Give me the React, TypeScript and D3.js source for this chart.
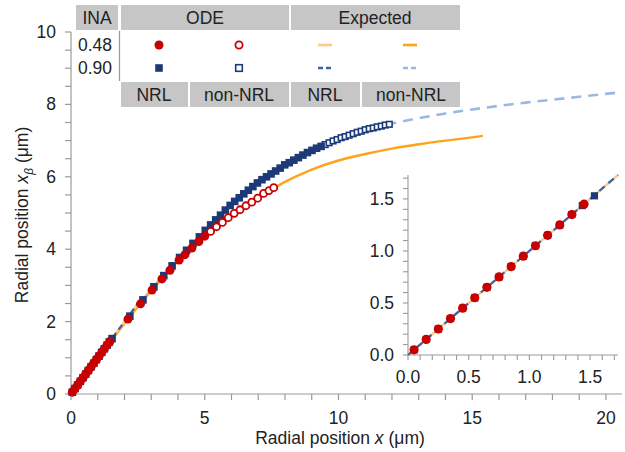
import React from "react";
import * as d3 from "d3";

// ---------- data ----------
const inaLabels = ["0.48", "0.90"];
const groupLabels = ["ODE", "Expected"];
const subLabels = ["NRL", "non-NRL", "NRL", "non-NRL"];

const mainXTicks = [0, 5, 10, 15, 20];
const mainYTicks = [0, 2, 4, 6, 8, 10];
const insetTicks = [0, 0.5, 1.0, 1.5];

// ODE, INA 0.48, NRL (filled red circles)
const odeNrl048X = [0.05, 0.15, 0.25, 0.35, 0.45, 0.55, 0.65, 0.75, 0.85, 0.95, 1.05, 1.15, 1.25, 1.35, 1.45, 2.13, 2.6, 3.03, 3.4, 3.7, 4.04, 4.26, 4.52, 4.78, 5.0];
const odeNrl048Y = [0.05, 0.15, 0.25, 0.35, 0.45, 0.55, 0.65, 0.75, 0.85, 0.95, 1.05, 1.15, 1.25, 1.35, 1.45, 2.07, 2.49, 2.87, 3.18, 3.42, 3.70, 3.85, 4.03, 4.21, 4.36];
// ODE, INA 0.48, non-NRL (open red circles)
const odeNon048X = [5.22, 5.44, 5.66, 5.88, 6.1, 6.32, 6.54, 6.76, 6.98, 7.2, 7.4, 7.58];
const odeNon048Y = [4.49, 4.62, 4.74, 4.87, 4.99, 5.09, 5.20, 5.30, 5.41, 5.54, 5.62, 5.70];
// ODE, INA 0.90, NRL (filled navy squares)
const odeNrl090X = [0.05, 0.15, 0.25, 0.35, 0.45, 0.55, 0.65, 0.75, 0.85, 0.95, 1.05, 1.15, 1.25, 1.35, 1.436, 1.536, 2.2, 2.69, 3.1, 3.47, 3.78, 4.06, 4.32, 4.56, 4.8, 5.02, 5.22, 5.41, 5.59, 5.77, 5.95, 6.12, 6.29, 6.46, 6.63, 6.8, 6.97, 7.14, 7.31, 7.48, 7.65, 7.82, 7.99, 8.16, 8.33, 8.5, 8.67, 8.84, 9.01, 9.18, 9.35];
const odeNrl090Y = [0.05, 0.15, 0.25, 0.35, 0.45, 0.55, 0.65, 0.75, 0.85, 0.95, 1.05, 1.15, 1.25, 1.35, 1.436, 1.53, 2.15, 2.6, 2.96, 3.27, 3.54, 3.77, 3.97, 4.16, 4.34, 4.52, 4.67, 4.81, 4.94, 5.08, 5.21, 5.32, 5.42, 5.53, 5.63, 5.73, 5.83, 5.92, 6.0, 6.08, 6.16, 6.24, 6.33, 6.39, 6.46, 6.53, 6.6, 6.67, 6.73, 6.79, 6.84];
// ODE, INA 0.90, non-NRL (open navy squares)
const odeNon090X = [9.5, 9.65, 9.8, 9.95, 10.1, 10.25, 10.4, 10.55, 10.7, 10.85, 11.0, 11.15, 11.3, 11.45, 11.6, 11.75, 11.9];
const odeNon090Y = [6.89, 6.94, 6.99, 7.03, 7.08, 7.11, 7.15, 7.19, 7.23, 7.26, 7.3, 7.33, 7.35, 7.38, 7.4, 7.43, 7.45];

// Expected, NRL (straight line)
const expNrlX = [0, 2.6];
const expNrlY = [0, 2.6];
// Expected, non-NRL, INA 0.48
const expNon048X = [0, 1, 2, 3, 4, 5, 6, 7, 8, 9, 10, 11, 12, 13, 14, 15, 15.4];
const expNon048Y = [0, 0.99, 1.95, 2.85, 3.67, 4.36, 4.94, 5.42, 5.86, 6.2, 6.45, 6.63, 6.78, 6.9, 7.0, 7.09, 7.13];
// Expected, non-NRL, INA 0.90
const expNon090X = [0, 1, 2, 3, 4, 5, 6, 7, 8, 9, 10, 11, 12, 13, 14, 15, 16, 17, 18, 19, 20, 20.6];
const expNon090Y = [0, 0.995, 1.97, 2.88, 3.72, 4.5, 5.25, 5.85, 6.33, 6.73, 7.05, 7.3, 7.47, 7.62, 7.75, 7.86, 7.96, 8.05, 8.13, 8.21, 8.29, 8.34];

// ---------- styles ----------
const RED = "#c80000";
const NAVY = "#1c3a78";
const ORANGE = "#ffa31a";
const LORANGE = "#ffca88";
const DBLUE = "#3a64a8";
const LBLUE = "#9ab9e2";
const AXIS = "#9a9a9a";
const CELL = "#c6c6c6";
const FONT = "'Liberation Sans', Arial, sans-serif";

const zip = (xs: number[], ys: number[]) => xs.map((x, i) => [x, ys[i]] as [number, number]);

function Markers({ pts, sx, sy, kind, r }: any) {
  return (
    <g>
      {pts.map(([x, y]: [number, number], i: number) => {
        const cx = sx(x), cy = sy(y);
        if (kind === "fc") return <circle key={i} cx={cx} cy={cy} r={r} fill={RED} />;
        if (kind === "oc") return <circle key={i} cx={cx} cy={cy} r={r - 0.9} fill="#fff" stroke={RED} strokeWidth={1.8} />;
        if (kind === "fs") return <rect key={i} x={cx - r} y={cy - r} width={2 * r} height={2 * r} fill={NAVY} />;
        return <rect key={i} x={cx - r + 0.8} y={cy - r + 0.8} width={2 * r - 1.6} height={2 * r - 1.6} fill="#fff" stroke={NAVY} strokeWidth={1.6} />;
      })}
    </g>
  );
}

export default function App() {
  const W = 625, H = 452;
  const x = d3.scaleLinear().domain([0, 20.6]).range([71, 622]);
  const y = d3.scaleLinear().domain([0, 10]).range([394, 32]);
  const ix = d3.scaleLinear().domain([0, 1.73]).range([408, 618]);
  const iy = d3.scaleLinear().domain([0, 1.73]).range([355, 175]);

  const lineMain = d3.line<[number, number]>().x((d) => x(d[0])).y((d) => y(d[1])).curve(d3.curveMonotoneX);
  const lineIn = d3.line<[number, number]>().x((d) => ix(d[0])).y((d) => iy(d[1]));

  const inDom = (p: [number, number]) => p[0] <= 1.73 && p[1] <= 1.73;

  const nrl048 = zip(odeNrl048X, odeNrl048Y);
  const non048 = zip(odeNon048X, odeNon048Y);
  const nrl090 = zip(odeNrl090X, odeNrl090Y);
  const non090 = zip(odeNon090X, odeNon090Y);
  const eNrl = zip(expNrlX, expNrlY);
  const e048 = zip(expNon048X, expNon048Y);
  const e090 = zip(expNon090X, expNon090Y);

  const xMinor = d3.range(0, 21, 1);
  const yMinor = d3.range(0, 10.01, 0.5);
  const iMinor = d3.range(0, 1.71, 0.1);

  const fs = 17.5;

  // legend geometry
  const colC = [159, 239, 325, 410];
  const rowY = [45, 68];

  return (
    <svg width={W} height={H} style={{ position: "absolute", left: 0, top: 0, background: "#fff" }} fontFamily={FONT}>
      {/* ---------- main axes ---------- */}
      <g stroke={AXIS} strokeWidth={1.2}>
        <line x1={x(0)} x2={x(20.6)} y1={y(0)} y2={y(0)} />
        <line x1={x(0)} x2={x(0)} y1={y(0)} y2={y(10)} />
        {xMinor.map((t) => (
          <line key={"xm" + t} x1={x(t)} x2={x(t)} y1={y(0)} y2={y(0) + 6} />
        ))}
        {yMinor.map((t) => (
          <line key={"ym" + t} x1={x(0) - 6} x2={x(0)} y1={y(t)} y2={y(t)} />
        ))}
      </g>
      <g fontSize={fs} fill="#222">
        {mainXTicks.map((t) => (
          <text key={"xt" + t} x={x(t)} y={424} textAnchor="middle">{t}</text>
        ))}
        {mainYTicks.map((t) => (
          <text key={"yt" + t} x={56} y={y(t) + 6} textAnchor="end">{t}</text>
        ))}
        <text x={340} y={444} textAnchor="middle">
          Radial position <tspan fontStyle="italic">x</tspan> (μm)
        </text>
        <text transform="translate(28,215) rotate(-90)" textAnchor="middle">
          Radial position <tspan fontStyle="italic">x</tspan>
          <tspan fontStyle="italic" fontSize={12} dy={5}>β</tspan>
          <tspan dy={-5}> (μm)</tspan>
        </text>
      </g>

      {/* ---------- main series ---------- */}
      <path d={lineMain(e090) || ""} fill="none" stroke={LBLUE} strokeWidth={2.6} strokeDasharray="10 7" />
      <path d={lineMain(e048) || ""} fill="none" stroke={ORANGE} strokeWidth={2.4} />
      <path d={lineMain(eNrl) || ""} fill="none" stroke={LORANGE} strokeWidth={2.4} />
      <path d={lineMain(eNrl) || ""} fill="none" stroke={DBLUE} strokeWidth={2.2} strokeDasharray="6 4" />
      <Markers pts={non090} sx={x} sy={y} kind="os" r={3.6} />
      <Markers pts={nrl090} sx={x} sy={y} kind="fs" r={3.8} />
      <Markers pts={non048} sx={x} sy={y} kind="oc" r={4.4} />
      <Markers pts={nrl048} sx={x} sy={y} kind="fc" r={4.5} />

      {/* ---------- inset ---------- */}
      <g stroke={AXIS} strokeWidth={1.1}>
        <line x1={ix(0)} x2={ix(1.73)} y1={iy(0)} y2={iy(0)} />
        <line x1={ix(0)} x2={ix(0)} y1={iy(0)} y2={iy(1.73)} />
        {iMinor.map((t) => (
          <line key={"ixm" + t} x1={ix(t)} x2={ix(t)} y1={iy(0)} y2={iy(0) + 5} />
        ))}
        {iMinor.map((t) => (
          <line key={"iym" + t} x1={ix(0) - 5} x2={ix(0)} y1={iy(t)} y2={iy(t)} />
        ))}
      </g>
      <g fontSize={fs} fill="#222">
        {insetTicks.map((t) => (
          <text key={"ixt" + t} x={ix(t)} y={383} textAnchor="middle">{t.toFixed(1)}</text>
        ))}
        {insetTicks.map((t) => (
          <text key={"iyt" + t} x={394} y={iy(t) + 6} textAnchor="end">{t.toFixed(1)}</text>
        ))}
      </g>
      <path d={lineIn([[0, 0], [1.73, 1.73]]) || ""} fill="none" stroke={LORANGE} strokeWidth={2.4} />
      <path d={lineIn([[0, 0], [1.73, 1.73]]) || ""} fill="none" stroke={DBLUE} strokeWidth={2.2} strokeDasharray="7 5" />
      <Markers pts={nrl090.filter(inDom)} sx={ix} sy={iy} kind="fs" r={3.6} />
      <Markers pts={nrl048.filter(inDom)} sx={ix} sy={iy} kind="fc" r={4.6} />

      {/* ---------- legend table ---------- */}
      <g>
        <rect x={76} y={5} width={42} height={25} fill={CELL} />
        <rect x={121} y={5} width={168} height={25} fill={CELL} />
        <rect x={291} y={5} width={169} height={25} fill={CELL} />
        <rect x={76} y={31} width={384} height={50} fill="#fff" />
        <line x1={119.5} x2={119.5} y1={31} y2={81} stroke={AXIS} strokeWidth={1.2} />
        <rect x={121} y={82} width={67} height={25} fill={CELL} />
        <rect x={190} y={82} width={99} height={25} fill={CELL} />
        <rect x={291} y={82} width={69} height={25} fill={CELL} />
        <rect x={362} y={82} width={98} height={25} fill={CELL} />
        <g fontSize={fs} fill="#222" textAnchor="middle">
          <text x={97} y={24}>INA</text>
          <text x={205} y={24}>{groupLabels[0]}</text>
          <text x={375} y={24}>{groupLabels[1]}</text>
          {subLabels.map((s, i) => (
            <text key={"sl" + i} x={[154, 239, 325, 411][i]} y={101}>{s}</text>
          ))}
        </g>
        <g fontSize={fs} fill="#222">
          {inaLabels.map((s, i) => (
            <text key={"ina" + i} x={78} y={rowY[i] + 6}>{s}</text>
          ))}
        </g>
        <circle cx={colC[0]} cy={rowY[0]} r={4.5} fill={RED} />
        <circle cx={colC[1]} cy={rowY[0]} r={3.6} fill="#fff" stroke={RED} strokeWidth={1.8} />
        <line x1={colC[2] - 7} x2={colC[2] + 7} y1={rowY[0]} y2={rowY[0]} stroke={LORANGE} strokeWidth={2.6} />
        <line x1={colC[3] - 7} x2={colC[3] + 7} y1={rowY[0]} y2={rowY[0]} stroke={ORANGE} strokeWidth={2.6} />
        <rect x={colC[0] - 3.8} y={rowY[1] - 3.8} width={7.6} height={7.6} fill={NAVY} />
        <rect x={colC[1] - 3.3} y={rowY[1] - 3.3} width={6.6} height={6.6} fill="#fff" stroke={NAVY} strokeWidth={1.6} />
        <line x1={colC[2] - 7} x2={colC[2] + 7} y1={rowY[1]} y2={rowY[1]} stroke={DBLUE} strokeWidth={2.6} strokeDasharray="5 3" />
        <line x1={colC[3] - 7} x2={colC[3] + 7} y1={rowY[1]} y2={rowY[1]} stroke={LBLUE} strokeWidth={2.6} strokeDasharray="5 3" />
      </g>
    </svg>
  );
}
